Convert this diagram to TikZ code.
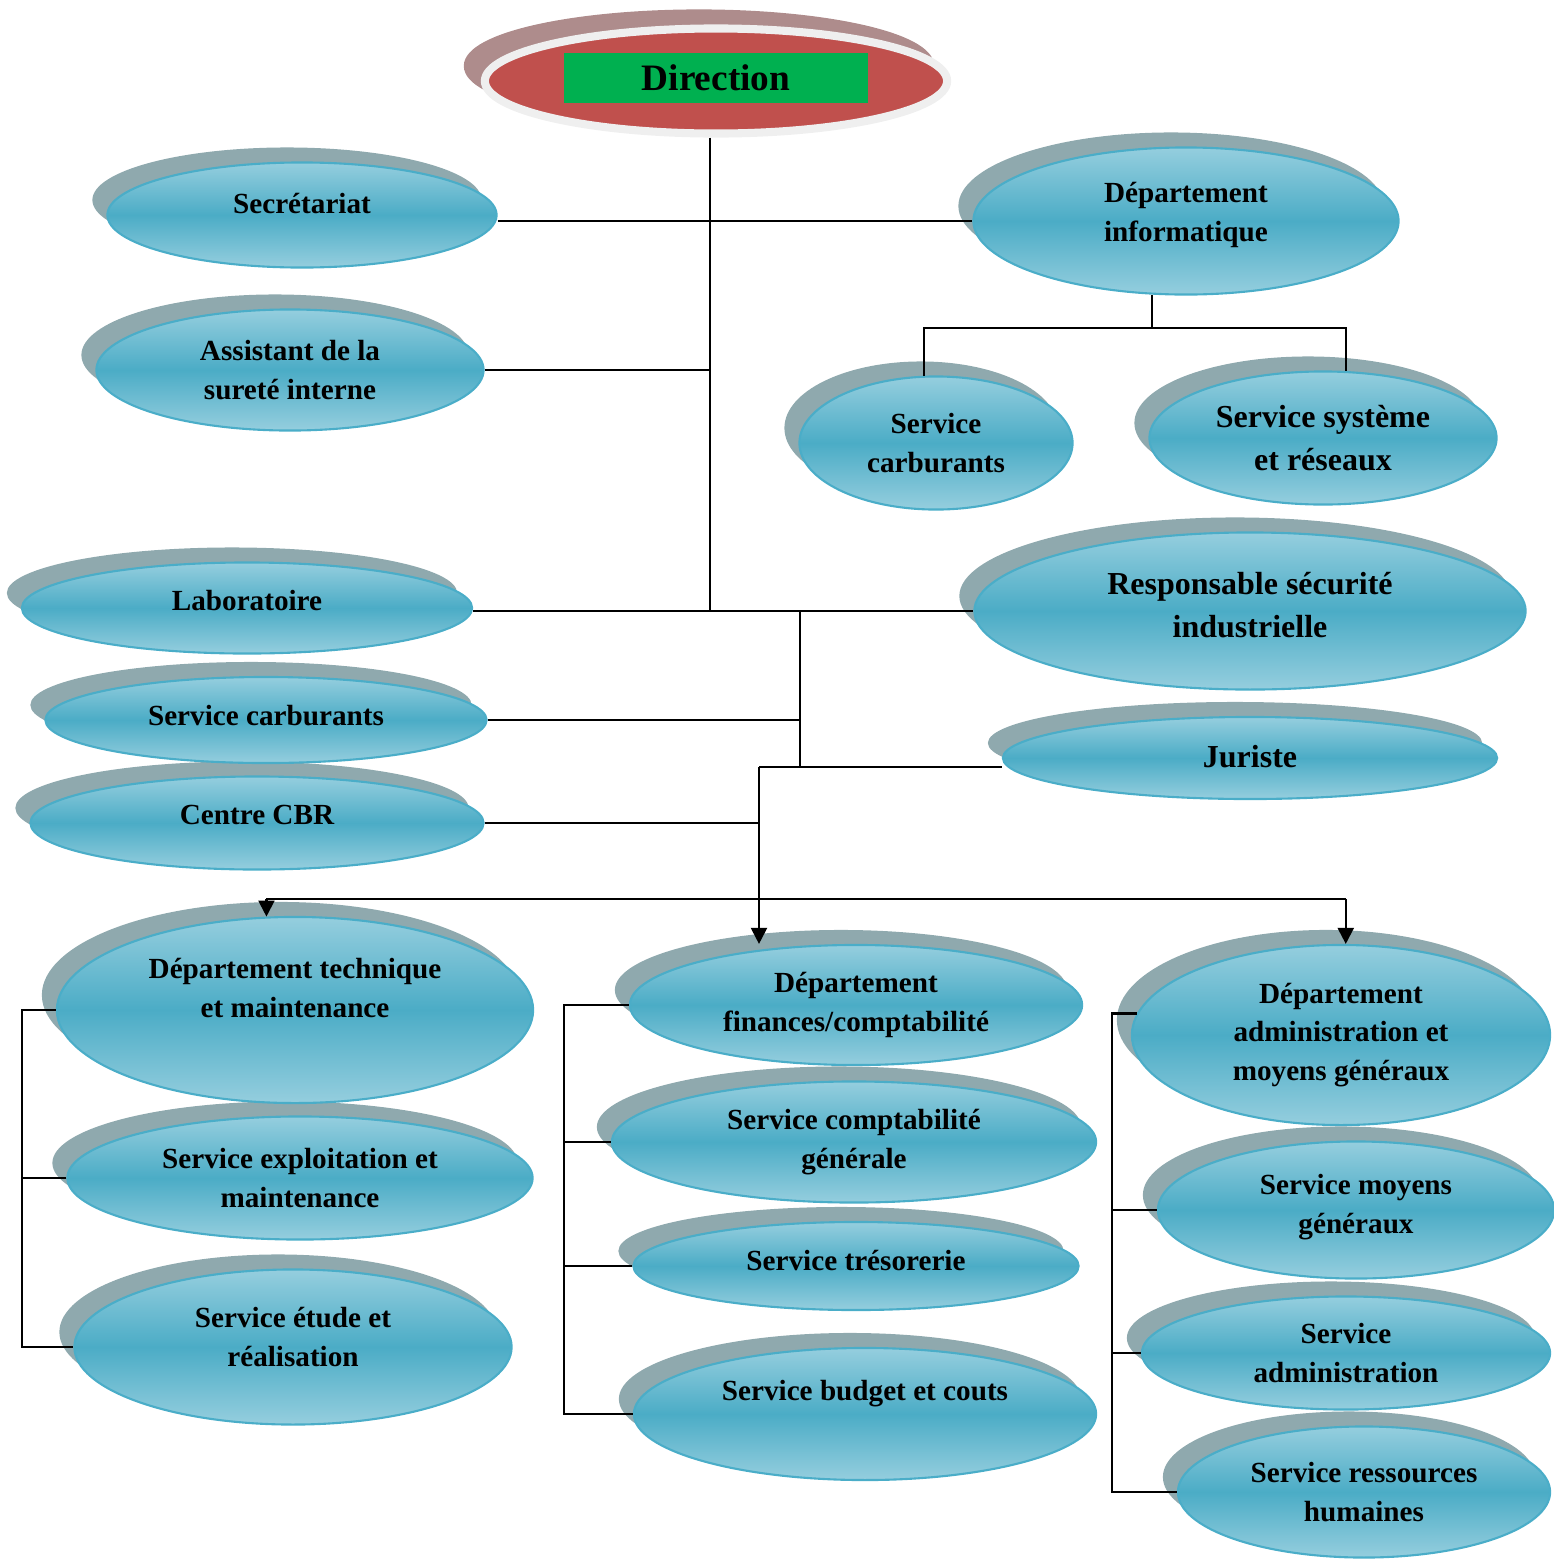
\documentclass[tikz,border=0pt]{standalone}
\usepackage{fontspec}
\setmainfont{Liberation Serif}
\usepackage{xcolor}
\usetikzlibrary{arrows.meta, shapes.geometric, shadows, calc}

\definecolor{dirred}{HTML}{C0504D}
\definecolor{dirrim}{HTML}{EFEFEF}
\definecolor{dirshadow}{HTML}{AE8C8C}
\definecolor{dirgreen}{HTML}{00B050}
\definecolor{unitmid}{HTML}{4BACC6}
\definecolor{unitlight}{HTML}{95CEDE}
\definecolor{unitedge}{HTML}{4AADC8}
\definecolor{unitshadow}{HTML}{8FA9AE}

\newcommand{\raisetext}[1]{\rule[-#1]{0pt}{0pt}}

\tikzset{
    unit/.style={ellipse, draw=unitedge, line width=0.6pt, top color=unitlight, bottom color=unitlight, middle color=unitmid,
        inner sep=0pt, align=center, font=\bfseries\fontsize{8.3}{11}\selectfont,
        drop shadow={shadow xshift=-0.15cm, shadow yshift=0.15cm, fill=unitshadow, opacity=1}},
    bigunit/.style={unit, font=\bfseries\fontsize{9.1}{12.2}\selectfont},
    wire/.style={line width=0.6pt},
    droparrow/.style={wire, -{Triangle[length=1.6mm, width=1.6mm]}}
}

\begin{document}
\begin{tikzpicture}[x=0.01cm, y=-0.01cm]
    \useasboundingbox (0,0) rectangle (1554,1560);

    \node[ellipse, fill=dirred, draw=dirrim, line width=2.3pt, minimum width=4.62cm, minimum height=1.05cm,
        drop shadow={shadow xshift=-0.17cm, shadow yshift=0.15cm, fill=dirshadow, draw=dirshadow, line width=2.3pt, opacity=1}] (dir) at (716,81) {};
    \node[fill=dirgreen, minimum width=3.04cm, minimum height=0.49cm, inner sep=0pt, font=\bfseries\fontsize{10.6}{12}\selectfont] (dirbox) at (716,78) {Direction\hspace{0.14cm}};

    \node[unit, minimum width=3.89cm, minimum height=1.05cm] (secr) at (302,215) {Secrétariat\raisetext{0.24cm}};
    \node[unit, minimum width=3.87cm, minimum height=1.21cm] (asst) at (290,370) {Assistant de la\\sureté interne};
    \node[unit, minimum width=4.25cm, minimum height=1.47cm] (info) at (1186,221) {Département\\informatique\raisetext{0.18cm}};
    \node[unit, minimum width=2.73cm, minimum height=1.33cm] (carbi) at (936,443) {Service\\carburants};
    \node[bigunit, minimum width=3.47cm, minimum height=1.33cm] (sys) at (1323,438) {Service système\\et réseaux};

    \node[unit, minimum width=4.50cm, minimum height=0.91cm] (labo) at (247,608) {Laboratoire\raisetext{0.16cm}};
    \node[bigunit, minimum width=5.51cm, minimum height=1.57cm] (resp) at (1250,611) {Responsable sécurité\\industrielle\raisetext{0.12cm}};
    \node[unit, minimum width=4.53cm, minimum height=0.93cm] (cbr) at (257,823) {Centre CBR\raisetext{0.16cm}};
    \node[unit, minimum width=4.41cm, minimum height=0.86cm] (carbl) at (266,720) {Service carburants\raisetext{0.10cm}};
    \node[bigunit, minimum width=4.94cm, minimum height=0.82cm] (jur) at (1250,758) {Juriste\raisetext{0.04cm}};

    \node[unit, minimum width=4.37cm, minimum height=1.55cm] (etude) at (293,1347) {Service étude et\\réalisation\raisetext{0.20cm}};
    \node[unit, minimum width=4.65cm, minimum height=1.23cm] (expl) at (300,1178) {Service exploitation et\\maintenance};
    \node[unit, minimum width=4.76cm, minimum height=1.86cm] (tech) at (295,1010) {Département technique\\et maintenance\raisetext{0.44cm}};

    \node[unit, minimum width=4.62cm, minimum height=1.32cm] (budget) at (865,1414) {Service budget et couts\raisetext{0.48cm}};
    \node[unit, minimum width=4.45cm, minimum height=0.88cm] (treso) at (856,1266) {Service trésorerie\raisetext{0.12cm}};
    \node[unit, minimum width=4.84cm, minimum height=1.21cm] (compta) at (854,1142) {Service comptabilité\\générale};
    \node[unit, minimum width=4.52cm, minimum height=1.20cm] (fin) at (856,1005) {Département\\finances/comptabilité};

    \node[unit, minimum width=3.72cm, minimum height=1.31cm] (rh) at (1364,1492) {Service ressources\\humaines};
    \node[unit, minimum width=4.08cm, minimum height=1.13cm] (sadm) at (1346,1353) {Service\\administration};
    \node[unit, minimum width=3.96cm, minimum height=1.37cm] (moy) at (1356,1210) {Service moyens\\généraux\raisetext{0.12cm}};
    \node[unit, minimum width=4.18cm, minimum height=1.80cm] (adm) at (1341,1035) {Département\\administration et\\moyens généraux};

    \coordinate (trunk) at ([xshift=-0.06cm]dir.south);
    \draw[wire] (trunk) -- (trunk |- resp.west);
    \draw[wire] (secr.east |- info.west) -- (info.west);
    \draw[wire] (asst.east) -- (asst.east -| trunk);
    \draw[wire] (labo.east |- resp.west) -- (resp.west);

    \draw[wire] (info.245) -- ++(0,33) coordinate (infobar);
    \draw[wire] (carbi.100) |- (infobar) -| (sys.71);

    \coordinate (hub) at (800,611);
    \coordinate (hubb) at (759,767);
    \draw[wire] (hub) -- (hub |- hubb);
    \draw[wire] (hubb) -- (hubb -| jur.west);
    \draw[wire] (carbl.east) -- (carbl.east -| hub);
    \draw[wire] (cbr.east) -- (cbr.east -| hubb);
    \draw[droparrow] (hubb) -- (hubb |- fin.north);

    \coordinate (bus) at (759,899);
    \draw[wire] (tech.107 |- bus) -- (adm.87 |- bus);
    \draw[droparrow] (tech.107 |- bus) -- (tech.107);
    \draw[droparrow] (adm.87 |- bus) -- (adm.87);

    \draw[wire] (tech.west) -- ++(-34,0) coordinate (techbar) |- (etude.west);
    \draw[wire] (expl.west) -- (expl.west -| techbar);

    \draw[wire] (fin.west) -- ++(-65,0) coordinate (finbar) |- (budget.west);
    \draw[wire] (compta.west) -- (compta.west -| finbar);
    \draw[wire] (treso.west) -- (treso.west -| finbar);

    \draw[wire] (adm.174) -- ++(-25,0) coordinate (admbar) |- (rh.west);
    \draw[wire] (moy.west) -- (moy.west -| admbar);
    \draw[wire] (sadm.west) -- (sadm.west -| admbar);
\end{tikzpicture}
\end{document}
